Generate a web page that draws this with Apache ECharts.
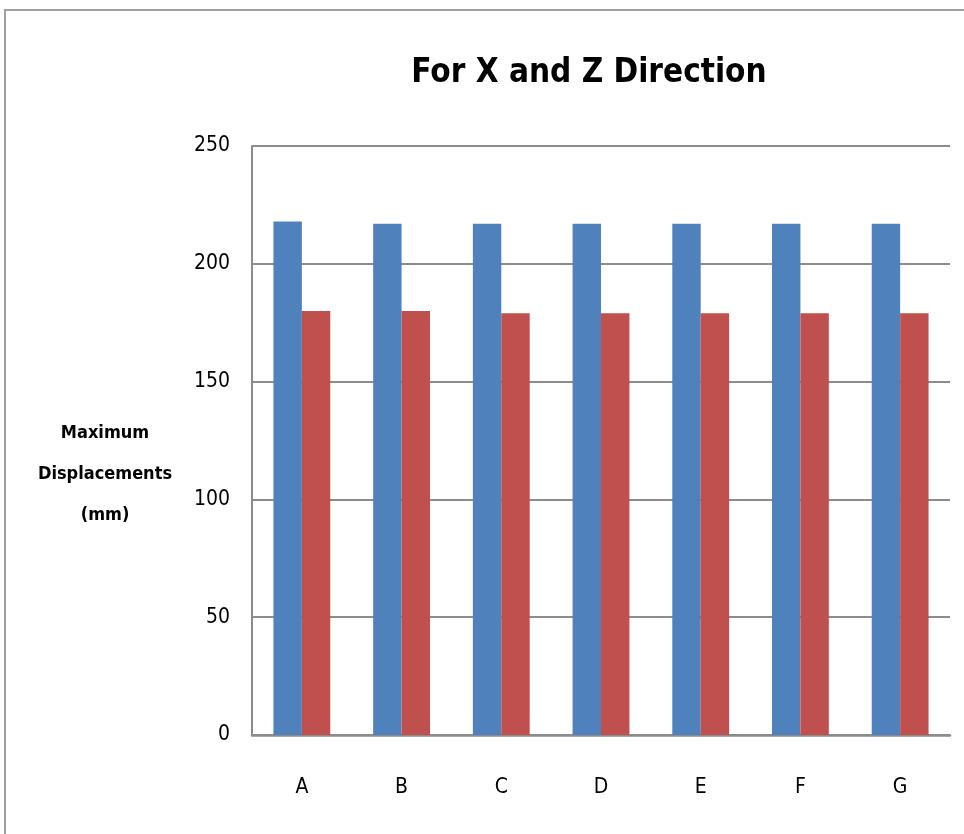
<!DOCTYPE html>
<html>
<head>
<meta charset="utf-8">
<script src="https://cdn.jsdelivr.net/npm/echarts@6/dist/echarts.min.js"></script>
<style>
  html, body { margin: 0; padding: 0; background: #fff; }
  #chart { width: 964px; height: 834px; }
</style>
</head>
<body>
<div id="chart"></div>
<script>
const categories = ["A", "B", "C", "D", "E", "F", "G"];
const seriesX = [218, 217, 217, 217, 217, 217, 217];
const seriesZ = [180, 180, 179, 179, 179, 179, 179];
const yTicks = [0, 50, 100, 150, 200, 250];

const font = "'Liberation Sans Narrow', 'DejaVu Sans Condensed', sans-serif";

const chart = echarts.init(document.getElementById("chart"));

chart.setOption({
  animation: false,
  backgroundColor: "#fff",
  title: {
    text: "For X and Z Direction",
    left: 584,
    top: 52,
    textAlign: "center",
    textStyle: {
      fontFamily: font,
      fontSize: 33,
      fontWeight: "bold",
      color: "#000",
    },
  },
  graphic: [
    {
      type: "rect",
      shape: { x: 5, y: 10, width: 1100, height: 1000 },
      style: { fill: "none", stroke: "#a0a0a0", lineWidth: 2 },
      silent: true,
    },
    {
      type: "text",
      x: 105,
      y: 474,
      style: {
        text: "Maximum\nDisplacements\n(mm)",
        fontFamily: font,
        fontSize: 18,
        fontWeight: "bold",
        lineHeight: 41,
        fill: "#000",
        align: "center",
        verticalAlign: "middle",
      },
    },
  ],
  grid: {
    left: 252,
    right: 14,
    top: 146,
    bottom: 99,
  },
  xAxis: {
    type: "category",
    data: categories,
    axisLine: { lineStyle: { color: "#8c8c8c", width: 2.5 } },
    axisTick: { show: false },
    axisLabel: {
      margin: 42,
      fontFamily: font,
      fontSize: 21,
      color: "#000",
    },
  },
  yAxis: {
    type: "value",
    min: yTicks[0],
    max: yTicks[yTicks.length - 1],
    interval: 50,
    axisLine: { show: true, lineStyle: { color: "#8c8c8c", width: 2 } },
    axisTick: { show: false },
    axisLabel: {
      margin: 22,
      fontFamily: font,
      fontSize: 21,
      color: "#000",
    },
    splitLine: { lineStyle: { color: "#8c8c8c", width: 2 } },
  },
  series: [
    {
      name: "X",
      type: "bar",
      data: seriesX,
      barGap: "0%",
      barCategoryGap: "43%",
      itemStyle: { color: "#4f81bd" },
    },
    {
      name: "Z",
      type: "bar",
      data: seriesZ,
      itemStyle: { color: "#c0504d" },
    },
  ],
});
</script>
</body>
</html>
